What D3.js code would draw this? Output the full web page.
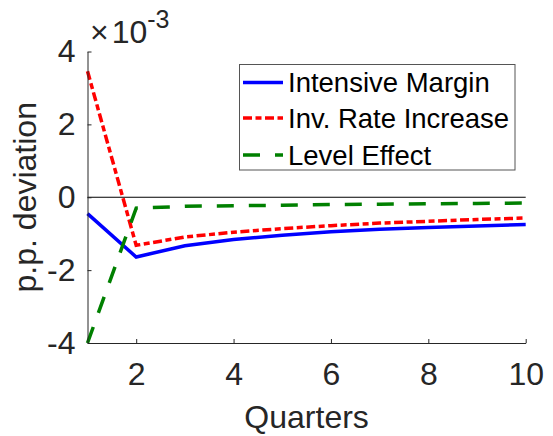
<!DOCTYPE html>
<html>
<head>
<meta charset="utf-8">
<script src="https://cdn.jsdelivr.net/npm/d3@7"></script>
<style>
  html, body { margin: 0; padding: 0; background: #fff; }
  svg { display: block; font-family: "Liberation Sans", Arial, Helvetica, sans-serif; }
</style>
</head>
<body>
<svg id="chart" width="553" height="436"></svg>
<script>
// Impulse responses, in units of 1e-3 percentage points
const quarters = [1, 2, 3, 4, 5, 6, 7, 8, 9, 10];
const intensiveMargin = [-0.45, -1.64, -1.33, -1.16, -1.04, -0.95, -0.88, -0.83, -0.79, -0.75];
const invRateIncrease = [3.46, -1.32, -1.09, -0.96, -0.86, -0.78, -0.71, -0.66, -0.61, -0.57];
const levelEffect = [-4.0, -0.30, -0.25, -0.23, -0.22, -0.20, -0.19, -0.18, -0.17, -0.16];
const seriesNames = ["Intensive Margin", "Inv. Rate Increase", "Level Effect"];
const xTicks = [2, 4, 6, 8, 10];
const yTicks = [-4, -2, 0, 2, 4];
const exponent = -3;

const svg = d3.select("#chart");
const axisColor = "#262626";

const x = d3.scaleLinear().domain([1, 10]).range([87.5, 525.7]);
const y = d3.scaleLinear().domain([-4, 4]).range([343, 51.5]);

const series = [
  { name: seriesNames[0], values: intensiveMargin, color: "#0000ff", dash: null },
  { name: seriesNames[1], values: invRateIncrease, color: "#ff0000", dash: "9,3.5,6,3.5" },
  { name: seriesNames[2], values: levelEffect, color: "#008000", dash: "17,15" }
];

// zero reference line
svg.append("line")
  .attr("x1", x(1)).attr("x2", x(10))
  .attr("y1", y(0)).attr("y2", y(0))
  .attr("stroke", "#000").attr("stroke-width", 1.2);

// series lines
const line = d3.line()
  .x((d, i) => x(quarters[i]))
  .y(d => y(d));

series.forEach(s => {
  svg.append("path")
    .datum(s.values)
    .attr("d", line)
    .attr("fill", "none")
    .attr("stroke", s.color)
    .attr("stroke-width", 3.5)
    .attr("stroke-dasharray", s.dash);
});

// axes (plain hyphen for negative tick labels)
const fmt = d => String(d);
const xAxis = d3.axisBottom(x).tickValues(xTicks).tickFormat(fmt)
  .tickSizeInner(-4).tickSizeOuter(0).tickPadding(19);
const yAxis = d3.axisLeft(y).tickValues(yTicks).tickFormat(fmt)
  .tickSizeInner(-4).tickSizeOuter(0).tickPadding(12);

const gx = svg.append("g").attr("transform", `translate(0,${y(-4)})`).call(xAxis);
const gy = svg.append("g").attr("transform", `translate(${x(1)},0)`).call(yAxis);

[gx, gy].forEach(g => {
  g.select(".domain").attr("stroke", axisColor).attr("stroke-width", 1);
  g.selectAll(".tick line").attr("stroke", axisColor).attr("stroke-width", 1);
  g.selectAll(".tick text")
    .attr("fill", axisColor)
    .style("font-size", "32px")
    .style("font-family", "'Liberation Sans', Arial, sans-serif");
});

// exponent label
const expLabel = svg.append("text")
  .attr("x", 90).attr("y", 43)
  .attr("fill", axisColor)
  .style("font-size", "32px");
expLabel.append("tspan").text("\u00d7");
expLabel.append("tspan").attr("dx", 3).text("10");
expLabel.append("tspan").attr("dy", -15).style("font-size", "25px").text(String(exponent));

// axis titles
svg.append("text")
  .attr("x", x(5.5)).attr("y", 428)
  .attr("text-anchor", "middle")
  .attr("fill", axisColor)
  .style("font-size", "32px")
  .text("Quarters");

svg.append("text")
  .attr("transform", `translate(36,${y(0)}) rotate(-90)`)
  .attr("text-anchor", "middle")
  .attr("fill", axisColor)
  .style("font-size", "32px")
  .text("p.p. deviation");

// legend
const legend = svg.append("g");
legend.append("rect")
  .attr("x", 239.5).attr("y", 64.5)
  .attr("width", 275.5).attr("height", 105.5)
  .attr("fill", "#fff")
  .attr("stroke", "#555").attr("stroke-width", 1);

const rowY = [82.5, 118, 155];
series.forEach((s, i) => {
  legend.append("line")
    .attr("x1", 243).attr("x2", 283)
    .attr("y1", rowY[i]).attr("y2", rowY[i])
    .attr("stroke", s.color)
    .attr("stroke-width", 3.5)
    .attr("stroke-dasharray", s.dash);
  legend.append("text")
    .attr("x", 288).attr("y", rowY[i])
    .attr("dy", "0.35em")
    .attr("fill", "#000")
    .style("font-size", "27.5px")
    .text(s.name);
});
</script>
</body>
</html>
